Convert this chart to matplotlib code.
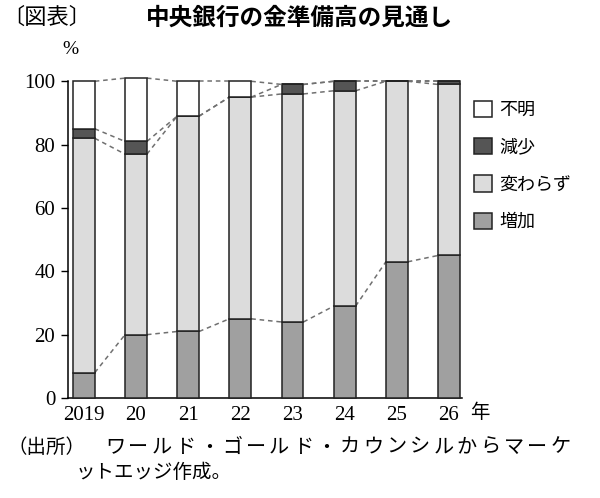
import numpy as np
import matplotlib
matplotlib.use('Agg')
import matplotlib.pyplot as plt
from matplotlib.patches import Patch

plt.rcParams['font.family'] = ['Noto Sans CJK JP', 'DejaVu Sans']

# データ（%）
years = ['2019', '20', '21', '22', '23', '24', '25', '26']
zouka = [8, 20, 21, 25, 24, 29, 43, 45]        # 増加
kawarazu = [74, 57, 68, 70, 72, 68, 57, 54]   # 変わらず
gensho = [3, 4, 0, 0, 3, 3, 0, 1]             # 減少
fumei = [15, 20, 11, 5, 0, 0, 0, 0]           # 不明

labels = ['増加', '変わらず', '減少', '不明']
colors = ['#a0a0a0', '#dcdcdc', '#555555', '#ffffff']

source1 = 'ワールド・ゴールド・カウンシルからマーケ'
source2 = 'ットエッジ作成。'

fig = plt.figure(figsize=(6, 4.98), dpi=100)
ax = fig.add_axes([0.113, 0.2008, 0.657, 0.636])

x = np.arange(len(years))
w = 0.42
series = [zouka, kawarazu, gensho, fumei]
bottom = np.zeros(len(years))
levels = []
for vals, col in zip(series, colors):
    vals = np.array(vals, dtype=float)
    ax.bar(x, vals, w, bottom=bottom, color=col, edgecolor='#222222',
           linewidth=1.1, clip_on=False, zorder=3)
    bottom = bottom + vals
    levels.append(bottom.copy())

# 棒の間の破線
for lev in levels:
    for i in range(len(years) - 1):
        ax.plot([x[i] + w / 2, x[i + 1] - w / 2], [lev[i], lev[i + 1]],
                ls=(0, (3, 2.5)), color='#707070', lw=1.1, zorder=2,
                clip_on=False)

ax.set_xlim(-0.307, 7.25)
ax.set_ylim(0, 100)
ax.set_yticks([0, 20, 40, 60, 80, 100])
ax.set_xticks(x)
ax.set_xticklabels(years)
for lab in ax.get_xticklabels() + ax.get_yticklabels():
    lab.set_family('Liberation Serif')
    lab.set_fontsize(15)
ax.tick_params(axis='x', length=0, pad=6)
ax.tick_params(axis='y', length=5, width=1, direction='out', pad=4)
ax.spines['top'].set_visible(False)
ax.spines['right'].set_visible(False)
ax.spines['left'].set_linewidth(1.1)
ax.spines['bottom'].set_linewidth(1.1)

# 凡例
handles = [Patch(facecolor=c, edgecolor='#222222', linewidth=1.1)
           for c in colors]
fig.legend(handles[::-1], labels[::-1], loc='upper left',
           bbox_to_anchor=(0.775, 1 - 92 / 498), frameon=False,
           fontsize=13, handlelength=1.0, handleheight=1.0,
           labelspacing=1.05, handletextpad=0.4, borderpad=0)

# テキスト
fig.text(0.003, 1 - 17 / 498, '〔図表〕', fontsize=16, va='center', ha='left')
fig.text(0.243, 1 - 18 / 498, '中央銀行の金準備高の見通し', fontsize=17,
         fontweight='bold', va='center', ha='left')
fig.text(0.117, 1 - 50 / 498, '%', fontsize=14, family='Liberation Serif',
         va='center', ha='center')
fig.text(0.783, 1 - 412 / 498, '年', fontsize=14, va='center', ha='left')
fig.text(0.012, 1 - 447 / 498, '（出所）', fontsize=14, va='center', ha='left')
# 1行目は均等割付
for k, ch in enumerate(source1):
    fig.text((105 + k * 23.45) / 600, 1 - 447 / 498, ch, fontsize=14.5,
             va='center', ha='left')
fig.text(76 / 600, 1 - 472 / 498, source2, fontsize=14,
         va='center', ha='left')

fig.savefig('out.png', dpi=100)
